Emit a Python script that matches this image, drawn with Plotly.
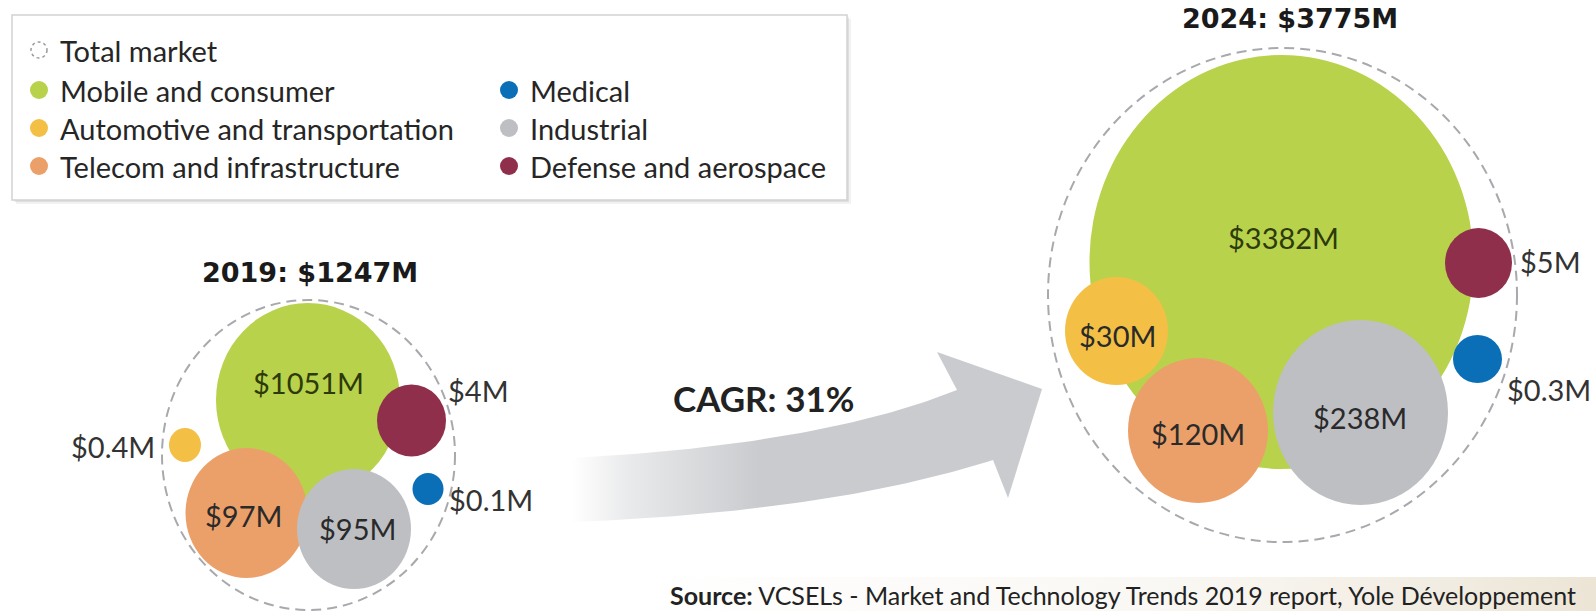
import numpy as np
import plotly.graph_objects as go

# ---------------- data ----------------
segments = ["Mobile and consumer", "Automotive and transportation", "Telecom and infrastructure",
            "Medical", "Industrial", "Defense and aerospace"]
values_2019 = [1051, 0.4, 97, 0.1, 95, 4]
values_2024 = [3382, 30, 120, 0.3, 238, 5]
years = [2019, 2024]
totals = [1247, 3775]
cagr_pct = 31
source_name = "VCSELs - Market and Technology Trends 2019 report, Yole Développement"

# ---------------- styles ----------------
seg_colors = ["#b8d24b", "#f3c045", "#eca069", "#0b6fb7", "#bdbfc3", "#902f4c"]
FONT = "Lato"
TXT = "#262626"

# ---------------- layout geometry (pixels: cx, cy, rx, ry) ----------------
geom = {
    2019: [(308, 400, 92, 97), (185, 445, 16, 17), (246.5, 513, 61, 65),
           (428, 489, 15.5, 16), (354, 529, 57, 60), (411.5, 420.5, 34.5, 36)],
    2024: [(1281.5, 262, 192, 207), (1116.5, 331, 51.5, 54), (1198, 430.5, 70, 72.5),
           (1477.5, 359, 24.5, 24), (1360.5, 412.5, 87.5, 92.5), (1478.5, 263, 33.5, 35)],
}
total_geom = {2019: (308.5, 455, 146.5, 155), 2024: (1282.5, 295, 234.5, 247)}
label_pos = {
    2019: [(308, 382, "center"), (157, 446, "right"), (243, 515, "center"),
           (447, 499, "left"), (357, 528, "center"), (446, 390, "left")],
    2024: [(1283, 237, "center"), (1117, 335, "center"), (1198, 433, "center"),
           (1505, 389, "left"), (1360, 417, "center"), (1518, 261, "left")],
}
title_pos = {2019: (310, 272), 2024: (1290, 18)}
draw_order = [0, 1, 2, 4, 5, 3]

W, H = 1596, 611
fig = go.Figure()
shapes = []
annotations = []


def fmt(v):
    return f"${v:g}M"


# background band behind the source line
band_x = [640, W, W, 640, 640]
band_y = [577, 577, H, H, 577]
fig.add_trace(go.Scatter(x=band_x, y=band_y, mode="lines", fill="toself", line=dict(width=0),
                         fillgradient=dict(type="horizontal",
                                           colorscale=[[0, "rgba(240,234,222,0)"], [0.55, "rgba(240,234,222,0.35)"],
                                                       [1, "rgba(236,229,214,1)"]]),
                         hoverinfo="skip", showlegend=False))

# curved arrow (decoration)
t = np.linspace(0, 1, 60)


def qbez(p0, p1, p2):
    x = (1 - t) ** 2 * p0[0] + 2 * (1 - t) * t * p1[0] + t ** 2 * p2[0]
    y = (1 - t) ** 2 * p0[1] + 2 * (1 - t) * t * p1[1] + t ** 2 * p2[1]
    return list(x), list(y)


tx, ty = qbez((572, 458), (820, 445), (957, 390))
bx, by = qbez((993, 460), (830, 512), (572, 522))
ax = tx + [937, 1042, 1008] + bx + [tx[0]]
ay = ty + [352, 389, 498] + by + [ty[0]]
fig.add_trace(go.Scatter(x=ax, y=ay, mode="lines", fill="toself", line=dict(width=0),
                         fillgradient=dict(type="horizontal",
                                           colorscale=[[0, "rgba(201,203,206,0)"], [0.12, "rgba(201,203,206,0.4)"],
                                                       [0.4, "rgba(201,203,206,1)"], [1, "rgba(201,203,206,1)"]]),
                         hoverinfo="skip", showlegend=False))

annotations.append(dict(x=763, y=398, text="<b>CAGR: %d%%</b>" % cagr_pct, showarrow=False,
                        font=dict(family=FONT, size=35, color="#222"), xanchor="center", yanchor="middle"))

# bubbles
for k, (yr, vals) in enumerate(zip(years, [values_2019, values_2024])):
    cx, cy, rx, ry = total_geom[yr]
    shapes.append(dict(type="circle", xref="x", yref="y", x0=cx - rx, x1=cx + rx, y0=cy - ry, y1=cy + ry,
                       line=dict(color="#a7a9ad", width=2, dash="10px,6px"), fillcolor="rgba(0,0,0,0)",
                       layer="below"))
    for i in draw_order:
        cx, cy, rx, ry = geom[yr][i]
        shapes.append(dict(type="circle", xref="x", yref="y", x0=cx - rx, x1=cx + rx, y0=cy - ry, y1=cy + ry,
                           line=dict(width=0), fillcolor=seg_colors[i], layer="above"))
    for i, v in enumerate(vals):
        lx, ly, anc = label_pos[yr][i]
        col = "#2d3a0a" if i == 0 else ("#333" if anc != "center" else "#2a2a2a")
        annotations.append(dict(x=lx, y=ly, text=fmt(v), showarrow=False, xanchor=anc, yanchor="middle",
                                font=dict(family=FONT, size=29, color=col)))
    tx_, ty_ = title_pos[yr]
    annotations.append(dict(x=tx_, y=ty_, text="<b>%d: $%dM</b>" % (yr, totals[k]),
                            showarrow=False, xanchor="center", yanchor="middle",
                            font=dict(family="DejaVu Sans", size=27, color="#1a1a1a")))

# legend box
for off, a in [(4, 0.05), (2, 0.08)]:
    shapes.append(dict(type="rect", xref="x", yref="y", x0=12 + off, x1=847 + off, y0=15 + off, y1=200 + off,
                       line=dict(width=0), fillcolor="rgba(0,0,0,%g)" % a, layer="below"))
shapes.append(dict(type="rect", xref="x", yref="y", x0=12, x1=847, y0=15, y1=200,
                   line=dict(color="#d2d2d2", width=1.5), fillcolor="white", layer="below"))

leg_rows = [90, 128, 166]
leg_cols = [(39, 58), (509, 528)]
legend_items = [("Total market", None, 0, 50)]
for k, name in enumerate(segments):
    col = 0 if k < 3 else 1
    legend_items.append((name, seg_colors[k], col, leg_rows[k % 3]))

for name, color, col, y in legend_items:
    dx, tx0 = leg_cols[col]
    if color is None:
        shapes.append(dict(type="circle", xref="x", yref="y", x0=dx - 8, x1=dx + 8, y0=y - 8, y1=y + 8,
                           line=dict(color="#9a9a9a", width=1.5, dash="dot"), fillcolor="rgba(0,0,0,0)"))
    else:
        shapes.append(dict(type="circle", xref="x", yref="y", x0=dx - 9, x1=dx + 9, y0=y - 9, y1=y + 9,
                           line=dict(width=0), fillcolor=color))
    annotations.append(dict(x=tx0, y=y, text=name, showarrow=False, xanchor="left", yanchor="middle",
                            font=dict(family=FONT, size=29, color=TXT)))

# source
annotations.append(dict(x=668, y=595, text="<b>Source:</b> " + source_name, showarrow=False,
                        xanchor="left", yanchor="middle", font=dict(family=FONT, size=25, color="#222")))

fig.update_layout(
    width=W, height=H, margin=dict(l=0, r=0, t=0, b=0),
    paper_bgcolor="white", plot_bgcolor="white",
    xaxis=dict(range=[0, W], visible=False, fixedrange=True),
    yaxis=dict(range=[H, 0], visible=False, fixedrange=True),
    shapes=shapes, annotations=annotations, showlegend=False,
)
fig.write_html("out.html", config={"displayModeBar": False},
               post_script="document.body.style.margin='0px';document.body.style.overflow='hidden';")
